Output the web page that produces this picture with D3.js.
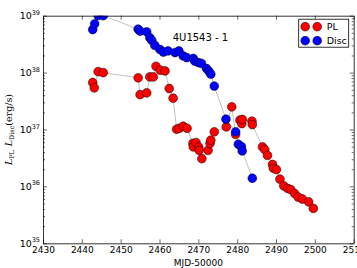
<!DOCTYPE html>
<html>
<head>
<meta charset="utf-8">
<script src="https://cdn.jsdelivr.net/npm/d3@7"></script>
<style>
  body { margin: 0; background: #fff; }
  svg { display: block; font-family: "DejaVu Sans", sans-serif; }
</style>
</head>
<body>
<script>
let margin = ({top: 15.7, right: 3.3, bottom: 24.7, left: 43}),
    width = 357,
    height = 268;

// PL component
let plDays = [2442.8, 2443.2, 2444.2, 2445.5, 2454.5, 2455.0, 2456.7, 2457.5, 2458.4, 2459.1,
              2460.2, 2461.4, 2462.5, 2463.5, 2464.4, 2465.1, 2466.1, 2467.1, 2468.6, 2468.7,
              2469.4, 2470.1, 2470.2, 2470.9, 2472.5, 2473.0, 2473.2, 2474.1, 2477.2, 2478.6,
              2479.6, 2480.7, 2481.2, 2481.3, 2483.8, 2483.9, 2486.5, 2487.1, 2487.8, 2489.1,
              2489.3, 2490.1, 2491.0, 2492.0, 2493.0, 2493.8, 2494.8, 2495.7, 2496.8, 2498.4,
              2499.6];
let plLum = [6.7e37, 5.4e37, 1.04e38, 1.0e38, 8.1e37, 4.1e37, 4.4e37, 8.4e37, 8.4e37, 1.29e38,
             1.1e38, 1.07e38, 5.25e37, 3.55e37, 1.01e37, 1.05e37, 1.14e37, 1.05e37, 5.7e36, 4.95e36,
             5.9e36, 4.9e36, 4.3e36, 3.07e36, 4.3e36, 5.7e36, 6.5e36, 9.1e36, 1.11e37, 2.5e37,
             8.2e36, 1.46e37, 1.27e37, 1.5e37, 1.4e37, 1.22e37, 4.95e36, 4.45e36, 3.5e36, 2.43e36,
             2.1e36, 1.98e36, 1.34e36, 1.02e36, 9.2e35, 8.8e35, 7.5e35, 6.5e35, 6.0e35, 5.35e35,
             4.1e35];

// Disc component
let discDays = [2442.8, 2443.3, 2444.2, 2445.5, 2454.5, 2455.0, 2456.7, 2457.5, 2458.0, 2458.8,
                2460.1, 2461.0, 2462.2, 2464.0, 2465.0, 2466.1, 2467.0, 2468.7, 2469.1, 2470.0,
                2470.8, 2472.1, 2472.7, 2473.2, 2474.1, 2477.1, 2479.6, 2480.3, 2481.1, 2481.3,
                2483.9];
let discLum = [5.7e38, 7.2e38, 1.0e39, 1.0e39, 5.8e38, 5.35e38, 5.2e38, 4.1e38, 3.7e38, 3.0e38,
               2.55e38, 2.3e38, 2.4e38, 2.25e38, 2.4e38, 1.96e38, 1.84e38, 1.77e38, 1.59e38, 1.5e38,
               1.45e38, 1.18e38, 1.06e38, 9.4e37, 5.8e37, 1.52e37, 9.1e36, 5.5e36, 5.0e36, 4.2e36,
               1.39e36];

let xTicks = [2430, 2440, 2450, 2460, 2470, 2480, 2490, 2500, 2510];
let yExponents = [35, 36, 37, 38, 39];
let seriesNames = ["PL", "Disc"];
let seriesColors = ["#ff0000", "#0000ff"];

let x = d3.scaleLinear()
    .domain([2430, 2510])
    .range([margin.left, width - margin.right]);

let y = d3.scaleLog()
    .domain([1e35, 1e39])
    .range([height - margin.bottom, margin.top]);

let pl = plDays.map((d, i) => ({t: d, v: plLum[i]}));
let disc = discDays.map((d, i) => ({t: d, v: discLum[i]}));

const svg = d3.select("body").append("svg")
    .attr("width", width)
    .attr("height", height)
    .attr("viewBox", [0, 0, width, height]);

svg.append("clipPath").attr("id", "clip")
  .append("rect")
    .attr("x", margin.left).attr("y", margin.top)
    .attr("width", width - margin.left - margin.right)
    .attr("height", height - margin.top - margin.bottom);

// minor + major log ticks
let yAll = [];
yExponents.forEach(e => {
  for (let m = 1; m < 10; m++) {
    if (e === 39 && m > 1) break;
    yAll.push(m * Math.pow(10, e));
  }
});
let isMajor = v => Math.abs(Math.log10(v) - Math.round(Math.log10(v))) < 1e-9;

const plot = svg.append("g").attr("clip-path", "url(#clip)");

let line = d3.line().x(d => x(d.t)).y(d => y(d.v));

[pl, disc].forEach(s => {
  plot.append("path")
      .datum(s)
      .attr("fill", "none")
      .attr("stroke", "#a8a8a8")
      .attr("stroke-width", 0.7)
      .attr("d", line);
});

[pl, disc].forEach((s, k) => {
  plot.append("g")
    .selectAll("circle")
    .data(s)
    .join("circle")
      .attr("cx", d => x(d.t))
      .attr("cy", d => y(d.v))
      .attr("r", 4.4)
      .attr("fill", seriesColors[k])
      .attr("stroke", "#000")
      .attr("stroke-width", 0.5);
});

// axes frame
let xAxisB = g => g
    .attr("transform", `translate(0,${height - margin.bottom})`)
    .call(d3.axisBottom(x).tickValues(xTicks).tickFormat(d3.format("d"))
        .tickSizeInner(-4).tickSizeOuter(0).tickPadding(3));

let xAxisT = g => g
    .attr("transform", `translate(0,${margin.top})`)
    .call(d3.axisTop(x).tickValues(xTicks).tickFormat("")
        .tickSizeInner(-4).tickSizeOuter(0));

let yAxisL = g => g
    .attr("transform", `translate(${margin.left},0)`)
    .call(d3.axisLeft(y).tickValues(yAll).tickFormat("").tickSizeInner(-4).tickSizeOuter(0));

let yAxisR = g => g
    .attr("transform", `translate(${width - margin.right},0)`)
    .call(d3.axisRight(y).tickValues(yAll).tickFormat("").tickSizeInner(-4).tickSizeOuter(0));

const gx = svg.append("g").call(xAxisB);
svg.append("g").call(xAxisT);
const gyl = svg.append("g").call(yAxisL);
const gyr = svg.append("g").call(yAxisR);

gyl.selectAll(".tick line").attr("x2", d => isMajor(d) ? 4 : 2);
gyr.selectAll(".tick line").attr("x2", d => isMajor(d) ? -4 : -2);

svg.selectAll(".domain").attr("stroke", "#000").attr("stroke-width", 0.8);
svg.selectAll(".tick line").attr("stroke", "#000").attr("stroke-width", 0.6);

gx.selectAll("text")
    .attr("font-size", 9)
    .attr("fill", "#000")
    .attr("font-family", "DejaVu Sans");

// y tick labels 10^n
const yl = svg.append("g")
    .attr("font-size", 9.5)
    .attr("fill", "#000");
yExponents.forEach(e => {
  let t = yl.append("text")
      .attr("x", margin.left - 3)
      .attr("y", y(Math.pow(10, e)) + 3.5)
      .attr("text-anchor", "end");
  t.append("tspan").text("10");
  t.append("tspan").attr("font-size", 6.5).attr("dy", -4.5).text(e);
});

// x label
svg.append("text")
    .attr("x", (margin.left + width - margin.right) / 2)
    .attr("y", height - 2.5)
    .attr("text-anchor", "middle")
    .attr("font-size", 9)
    .text("MJD-50000");

// y label
const ylab = svg.append("text")
    .attr("transform", `translate(12,${(margin.top + height - margin.bottom) / 2}) rotate(-90)`)
    .attr("text-anchor", "middle")
    .attr("font-family", "DejaVu Serif")
    .attr("font-size", 9.5);
ylab.append("tspan").attr("font-style", "italic").text("L");
ylab.append("tspan").attr("font-size", 6.5).attr("dy", 2).text("PL");
ylab.append("tspan").attr("dy", -2).text("\u2009\u2009");
ylab.append("tspan").attr("font-style", "italic").text("L");
ylab.append("tspan").attr("font-size", 6.5).attr("dy", 2).text("Disc");
ylab.append("tspan").attr("dy", -2).text("(erg/s)");

// annotation
svg.append("text")
    .attr("x", x(2463.4))
    .attr("y", y(3.6e38))
    .attr("font-size", 10)
    .text("4U1543 - 1");

// legend
const lg = svg.append("g").attr("transform", `translate(${width - margin.right - 55},${margin.top + 3.5})`);
lg.append("rect")
    .attr("width", 50).attr("height", 28)
    .attr("fill", "#fff").attr("stroke", "#000").attr("stroke-width", 0.8);
seriesNames.forEach((name, k) => {
  let row = lg.append("g").attr("transform", `translate(0,${7.5 + k * 14})`);
  [6.5, 18.5].forEach(cx => row.append("circle")
      .attr("cx", cx).attr("cy", 0).attr("r", 4.4)
      .attr("fill", seriesColors[k]).attr("stroke", "#000").attr("stroke-width", 0.5));
  row.append("text")
      .attr("x", 28).attr("y", 3.5)
      .attr("font-size", 9.5)
      .text(name);
});
</script>
</body>
</html>
